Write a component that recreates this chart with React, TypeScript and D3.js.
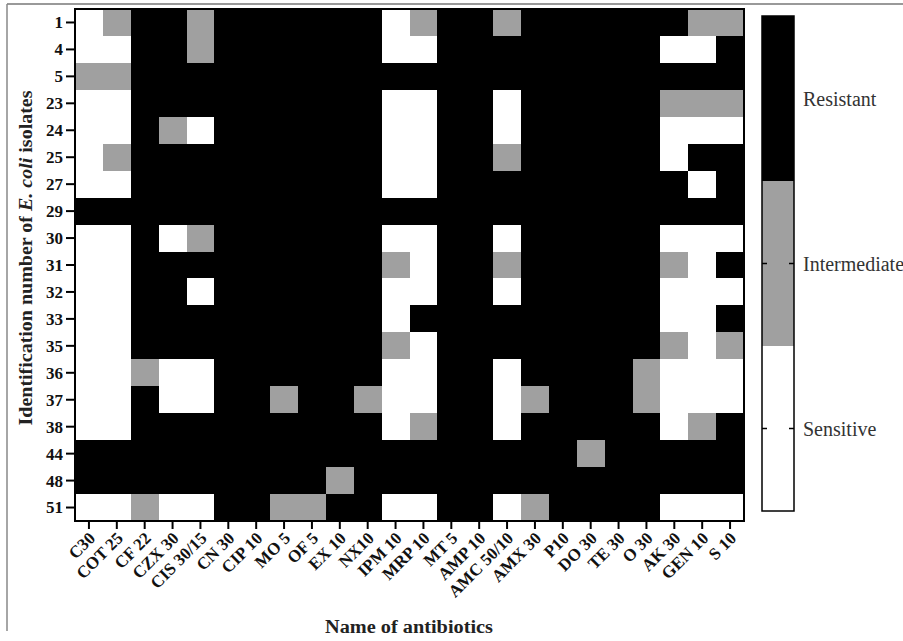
import React from "react";
import * as d3 from "d3";

// antibiotics (columns) and isolates (rows)
const antibiotics = [
  "C30", "COT 25", "CF 22", "CZX 30", "CIS 30/15", "CN 30", "CIP 10", "MO 5",
  "OF 5", "EX 10", "NX10", "IPM 10", "MRP 10", "MT 5", "AMP 10", "AMC 50/10",
  "AMX 30", "P10", "DO 30", "TE 30", "O 30", "AK 30", "GEN 10", "S 10",
];
const isolates = ["1", "4", "5", "23", "24", "25", "27", "29", "30", "31", "32", "33", "35", "36", "37", "38", "44", "48", "51"];

// 0 = sensitive, 1 = intermediate, 2 = resistant
const results = [
  [0, 1, 2, 2, 1, 2, 2, 2, 2, 2, 2, 0, 1, 2, 2, 1, 2, 2, 2, 2, 2, 2, 1, 1],
  [0, 0, 2, 2, 1, 2, 2, 2, 2, 2, 2, 0, 0, 2, 2, 2, 2, 2, 2, 2, 2, 0, 0, 2],
  [1, 1, 2, 2, 2, 2, 2, 2, 2, 2, 2, 2, 2, 2, 2, 2, 2, 2, 2, 2, 2, 2, 2, 2],
  [0, 0, 2, 2, 2, 2, 2, 2, 2, 2, 2, 0, 0, 2, 2, 0, 2, 2, 2, 2, 2, 1, 1, 1],
  [0, 0, 2, 1, 0, 2, 2, 2, 2, 2, 2, 0, 0, 2, 2, 0, 2, 2, 2, 2, 2, 0, 0, 0],
  [0, 1, 2, 2, 2, 2, 2, 2, 2, 2, 2, 0, 0, 2, 2, 1, 2, 2, 2, 2, 2, 0, 2, 2],
  [0, 0, 2, 2, 2, 2, 2, 2, 2, 2, 2, 0, 0, 2, 2, 2, 2, 2, 2, 2, 2, 2, 0, 2],
  [2, 2, 2, 2, 2, 2, 2, 2, 2, 2, 2, 2, 2, 2, 2, 2, 2, 2, 2, 2, 2, 2, 2, 2],
  [0, 0, 2, 0, 1, 2, 2, 2, 2, 2, 2, 0, 0, 2, 2, 0, 2, 2, 2, 2, 2, 0, 0, 0],
  [0, 0, 2, 2, 2, 2, 2, 2, 2, 2, 2, 1, 0, 2, 2, 1, 2, 2, 2, 2, 2, 1, 0, 2],
  [0, 0, 2, 2, 0, 2, 2, 2, 2, 2, 2, 0, 0, 2, 2, 0, 2, 2, 2, 2, 2, 0, 0, 0],
  [0, 0, 2, 2, 2, 2, 2, 2, 2, 2, 2, 0, 2, 2, 2, 2, 2, 2, 2, 2, 2, 0, 0, 2],
  [0, 0, 2, 2, 2, 2, 2, 2, 2, 2, 2, 1, 0, 2, 2, 2, 2, 2, 2, 2, 2, 1, 0, 1],
  [0, 0, 1, 0, 0, 2, 2, 2, 2, 2, 2, 0, 0, 2, 2, 0, 2, 2, 2, 2, 1, 0, 0, 0],
  [0, 0, 2, 0, 0, 2, 2, 1, 2, 2, 1, 0, 0, 2, 2, 0, 1, 2, 2, 2, 1, 0, 0, 0],
  [0, 0, 2, 2, 2, 2, 2, 2, 2, 2, 2, 0, 1, 2, 2, 0, 2, 2, 2, 2, 2, 0, 1, 2],
  [2, 2, 2, 2, 2, 2, 2, 2, 2, 2, 2, 2, 2, 2, 2, 2, 2, 2, 1, 2, 2, 2, 2, 2],
  [2, 2, 2, 2, 2, 2, 2, 2, 2, 1, 2, 2, 2, 2, 2, 2, 2, 2, 2, 2, 2, 2, 2, 2],
  [0, 0, 1, 0, 0, 2, 2, 1, 1, 2, 2, 0, 0, 2, 2, 0, 1, 2, 2, 2, 2, 0, 0, 0],
];

const levels = ["Sensitive", "Intermediate", "Resistant"];
const levelColors = ["#ffffff", "#a0a0a0", "#000000"];

const W = 903, H = 641;
const plot = { left: 75, right: 744, top: 9, bottom: 521 };
const bar = { left: 762, right: 794, top: 16, bottom: 511 };
const serif = "'Liberation Serif', 'Times New Roman', serif";

export default function App() {
  const x = d3.scaleBand<string>().domain(antibiotics).range([plot.left, plot.right]);
  const y = d3.scaleBand<string>().domain(isolates).range([plot.top, plot.bottom]);
  const color = d3.scaleOrdinal<number, string>().domain([0, 1, 2]).range(levelColors);
  // colorbar: resistant on top
  const by = d3.scaleBand<string>().domain([...levels].reverse()).range([bar.top, bar.bottom]);

  const cells = results.flatMap((row, ri) =>
    row.map((v, ci) => ({ r: isolates[ri], c: antibiotics[ci], v }))
  );

  return (
    <svg width={W} height={H} style={{ position: "absolute", left: 0, top: 0, background: "#fff" }}>
      {/* outer frame of the figure */}
      <line x1={7} x2={W} y1={4} y2={4} stroke="#777" strokeWidth={1.5} />
      <line x1={7} x2={7} y1={4} y2={631} stroke="#888" strokeWidth={1.5} />

      {cells.map((d, i) => (
        <rect
          key={i}
          x={x(d.c)}
          y={y(d.r)}
          width={x.bandwidth() + 0.5}
          height={y.bandwidth() + 0.5}
          fill={color(d.v)}
          shapeRendering="crispEdges"
        />
      ))}
      <rect
        x={plot.left}
        y={plot.top}
        width={plot.right - plot.left}
        height={plot.bottom - plot.top}
        fill="none"
        stroke="#000"
        strokeWidth={2}
      />

      {/* y axis */}
      {isolates.map((r) => {
        const cy = y(r)! + y.bandwidth() / 2;
        return (
          <g key={r}>
            <line x1={plot.left - 9} x2={plot.left} y1={cy} y2={cy} stroke="#000" strokeWidth={2} />
            <text
              x={plot.left - 12}
              y={cy}
              dy="0.35em"
              textAnchor="end"
              fontFamily={serif}
              fontWeight="bold"
              fontSize={17}
              fill="#111"
            >
              {r}
            </text>
          </g>
        );
      })}
      <text
        transform={`translate(32,258) rotate(-90)`}
        textAnchor="middle"
        fontFamily={serif}
        fontWeight="bold"
        fontSize={18}
        fill="#222"
        textLength={335}
        lengthAdjust="spacingAndGlyphs"
      >
        Identification number of <tspan fontStyle="italic">E. coli</tspan> isolates
      </text>

      {/* x axis */}
      {antibiotics.map((a) => {
        const cx = x(a)! + x.bandwidth() / 2;
        return (
          <g key={a}>
            <line x1={cx} x2={cx} y1={plot.bottom} y2={plot.bottom + 8} stroke="#000" strokeWidth={2} />
            <text
              transform={`translate(${cx + 3},${plot.bottom + 14}) rotate(-45)`}
              textAnchor="end"
              dy="0.35em"
              fontFamily={serif}
              fontWeight="bold"
              fontSize={17}
              fill="#111"
            >
              {a}
            </text>
          </g>
        );
      })}
      <text
        x={409}
        y={633}
        textAnchor="middle"
        fontFamily={serif}
        fontWeight="bold"
        fontSize={18}
        fill="#222"
        textLength={168}
        lengthAdjust="spacingAndGlyphs"
      >
        Name of antibiotics
      </text>

      {/* colour bar legend */}
      {by.domain().map((l) => {
        const i = levels.indexOf(l);
        const cy = by(l)! + by.bandwidth() / 2;
        return (
          <g key={l}>
            <rect
              x={bar.left}
              y={by(l)}
              width={bar.right - bar.left}
              height={by.bandwidth()}
              fill={levelColors[i]}
            />
            <line x1={bar.left} x2={bar.left + 5} y1={cy} y2={cy} stroke="#000" strokeWidth={1.5} />
            <line x1={bar.right - 5} x2={bar.right} y1={cy} y2={cy} stroke="#000" strokeWidth={1.5} />
            <text
              x={803}
              y={cy}
              dy="0.35em"
              fontFamily={serif}
              fontSize={20}
              fill="#333"
            >
              {l}
            </text>
          </g>
        );
      })}
      <rect
        x={bar.left}
        y={bar.top}
        width={bar.right - bar.left}
        height={bar.bottom - bar.top}
        fill="none"
        stroke="#000"
        strokeWidth={1.5}
      />
    </svg>
  );
}
